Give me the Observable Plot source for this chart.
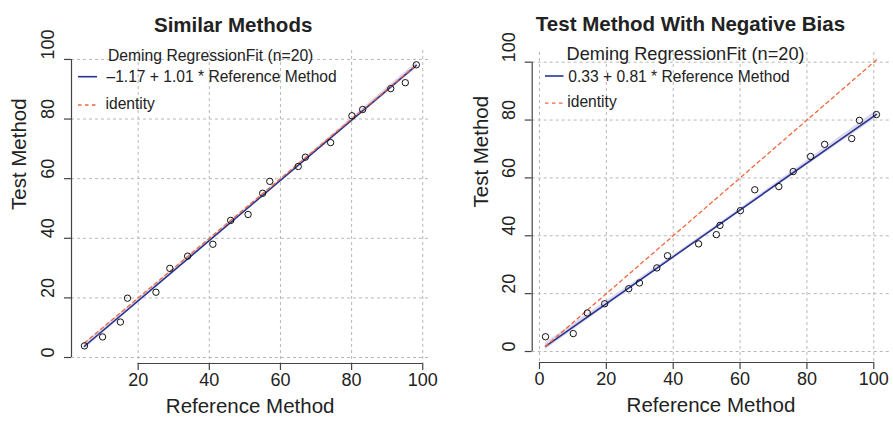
<!DOCTYPE html>
<html><head><meta charset="utf-8">
<script src="https://cdn.jsdelivr.net/npm/d3@7"></script>
<script src="https://cdn.jsdelivr.net/npm/@observablehq/plot@0.6"></script>
<style>
body{margin:0;background:#fff;}
#wrap{position:relative;width:893px;height:428px;overflow:hidden;font-family:"Liberation Sans",Arial,sans-serif;}
.panel{position:absolute;top:0;}
#overlay{position:absolute;left:0;top:0;pointer-events:none;}
</style></head><body><div id="wrap"></div>
<script>
// ---- data ----
const similarRef  = [4.9,10,15,17,25,28.9,33.9,41,46,50.9,55,57,65,67,74.1,80.1,83.1,91,95.1,98.2];
const similarTest = [3.9,6.9,11.9,19.9,21.9,29.9,34,38,46,48,55.1,59.1,64.1,67.2,72.1,81.1,83.2,90.2,92.2,98.2];
const biasRef  = [1.8,10.1,14.3,19.5,26.7,29.9,35.1,38.3,47.6,52.9,54.0,60.1,64.4,71.6,75.9,81.1,85.3,93.4,95.7,100.8];
const biasTest = [5.1,6.2,13.3,16.5,21.7,23.7,28.9,33.1,37.2,40.4,43.6,48.7,55.9,57.0,62.2,67.4,71.6,73.6,79.9,81.9];
const similarFit = {intercept: -1.17, slope: 1.01};
const biasFit = {intercept: 0.33, slope: 0.81};
const similarBandHalf = [1.0, 0.7, 0.45, 0.7, 1.0];
const biasBandHalf = [1.2, 0.8, 0.5, 0.8, 1.3];
const xTicksLeft = [20, 40, 60, 80, 100];
const xTicksRight = [0, 20, 40, 60, 80, 100];
const yTicks = [0, 20, 40, 60, 80, 100];
const titles = ["Similar Methods", "Test Method With Negative Bias"];
const legendHeader = "Deming RegressionFit (n=20)";
const legendFit = ["\u20131.17 + 1.01 * Reference Method", "0.33 + 0.81 * Reference Method"];
const xLabel = "Reference Method";
const yLabel = "Test Method";

const FIT = "#26358f", IDENT = "#f2663a", BAND = "#d9d3ee", GRID = "#b8b8b8", AXIS = "#444", INK = "#222";
const FONT = "Liberation Sans, Arial, sans-serif";

function panel(cfg) {
  const {ref, test, fit, bandHalf, xTicks, xDomain, yDomain, margins, width, title, titleDx, titleDy, yLabDx} = cfg;
  const [xmin, xmax] = d3.extent(ref);
  const fitLine = [xmin, xmax].map(x => ({x, y: fit.intercept + fit.slope * x}));
  const ident = [xmin, xmax].map(x => ({x, y: x}));
  const band = bandHalf.map((h, i) => {
    const x = xmin + (xmax - xmin) * i / (bandHalf.length - 1);
    const y = fit.intercept + fit.slope * x;
    return {x, y1: y - h, y2: y + h};
  });
  const pts = ref.map((r, i) => ({x: r, y: test[i]}));
  return Plot.plot({
    width, height: 428,
    marginLeft: margins[0], marginRight: margins[1], marginTop: margins[2], marginBottom: margins[3],
    style: {fontFamily: FONT, background: "transparent", color: INK},
    x: {domain: xDomain},
    y: {domain: yDomain},
    marks: [
      Plot.gridY(yTicks, {stroke: GRID, strokeOpacity: 1, strokeDasharray: "3,3"}),
      Plot.gridX(xTicks, {stroke: GRID, strokeOpacity: 1, strokeDasharray: "3,3"}),
      Plot.areaY(band, {x: "x", y1: "y1", y2: "y2", fill: BAND, fillOpacity: 0.9, curve: "natural"}),
      Plot.line(fitLine, {x: "x", y: "y", stroke: FIT, strokeWidth: 1.6}),
      Plot.line(ident, {x: "x", y: "y", stroke: IDENT, strokeWidth: 1.3, strokeDasharray: "3.5,3.5"}),
      Plot.dot(pts, {x: "x", y: "y", r: 3.2, stroke: "#111", strokeWidth: 1, fill: "none"}),
      // axes
      Plot.ruleY([yDomain[0]], {x1: xTicks[0], x2: xTicks[xTicks.length - 1], stroke: AXIS, strokeWidth: 1.2}),
      Plot.ruleX([xDomain[0]], {y1: yTicks[0], y2: yTicks[yTicks.length - 1], stroke: AXIS, strokeWidth: 1.2}),
      Plot.axisX(xTicks, {tickSize: 7, tickFormat: () => "", label: null, stroke: AXIS, strokeWidth: 1.2}),
      Plot.axisY(yTicks, {tickSize: 7, tickFormat: () => "", label: null, stroke: AXIS, strokeWidth: 1.2}),
      Plot.text(xTicks, {x: d => d, text: d => String(d), frameAnchor: "bottom", dy: 22, fontSize: 18, fill: INK}),
      Plot.text(yTicks, {y: d => d, text: d => String(d), frameAnchor: "left", dx: yLabDx, rotate: -90, fontSize: 18, fill: INK}),
      Plot.text([xLabel], {frameAnchor: "bottom", dy: 49, fontSize: 20.5, fill: INK}),
      Plot.text([yLabel], {frameAnchor: "left", dx: cfg.yTitleDx, dy: cfg.yTitleDy, rotate: -90, fontSize: 20.5, fill: INK}),
      Plot.text([title], {frameAnchor: "top", dx: titleDx, dy: titleDy, fontSize: 20.5, fontWeight: "bold", fill: INK})
    ]
  });
}

const wrap = document.getElementById("wrap");
const left = panel({
  ref: similarRef, test: similarTest, fit: similarFit, bandHalf: similarBandHalf,
  xTicks: xTicksLeft, xDomain: [1.26, 101.7], yDomain: [-2.01, 103.0],
  margins: [71, 17.7, 50, 65], width: 446, title: titles[0], titleDx: -17, titleDy: -33.5,
  yLabDx: -23.5, yTitleDx: -52, yTitleDy: 3
});
left.classList.add("panel"); left.style.left = "0px";
wrap.appendChild(left);
const right = panel({
  ref: biasRef, test: biasTest, fit: biasFit, bandHalf: biasBandHalf,
  xTicks: xTicksRight, xDomain: [-2.18, 104.76], yDomain: [-3.8, 103.35],
  margins: [85.7, 3.8, 52, 66], width: 447, title: titles[1], titleDx: -20.5, titleDy: -36,
  yLabDx: -22.7, yTitleDx: -51, yTitleDy: 0
});
right.classList.add("panel"); right.style.left = "446px";
wrap.appendChild(right);

// legends
const ov = d3.select(wrap).append("svg").attr("id", "overlay").attr("width", 893).attr("height", 428)
  .style("font-family", FONT);
const legends = [
  {hx: 108, hy: 55, hs: 15.7, lx1: 78, lx2: 97, r2: 76.7, r3: 103.5, tx: 106.5, fit: legendFit[0]},
  {hx: 566.5, hy: 54, hs: 18.2, lx1: 545, lx2: 563.5, r2: 76, r3: 101.7, tx: 568.3, fit: legendFit[1]}
];
legends.forEach(l => {
  ov.append("text").attr("x", l.hx).attr("y", l.hy).attr("dominant-baseline", "central")
    .attr("font-size", l.hs).attr("fill", INK).text(legendHeader);
  ov.append("line").attr("x1", l.lx1).attr("x2", l.lx2).attr("y1", l.r2).attr("y2", l.r2)
    .attr("stroke", FIT).attr("stroke-width", 1.6);
  ov.append("text").attr("x", l.tx).attr("y", l.r2).attr("dominant-baseline", "central")
    .attr("font-size", 15.6).attr("fill", INK).text(l.fit);
  ov.append("line").attr("x1", l.lx1).attr("x2", l.lx2).attr("y1", l.r3 + 1.5).attr("y2", l.r3 + 1.5)
    .attr("stroke", IDENT).attr("stroke-width", 1.3).attr("stroke-dasharray", "3.5,3.5");
  ov.append("text").attr("x", l.tx - 1).attr("y", l.r3).attr("dominant-baseline", "central")
    .attr("font-size", 15.6).attr("fill", INK).text("identity");
});
</script></body></html>
